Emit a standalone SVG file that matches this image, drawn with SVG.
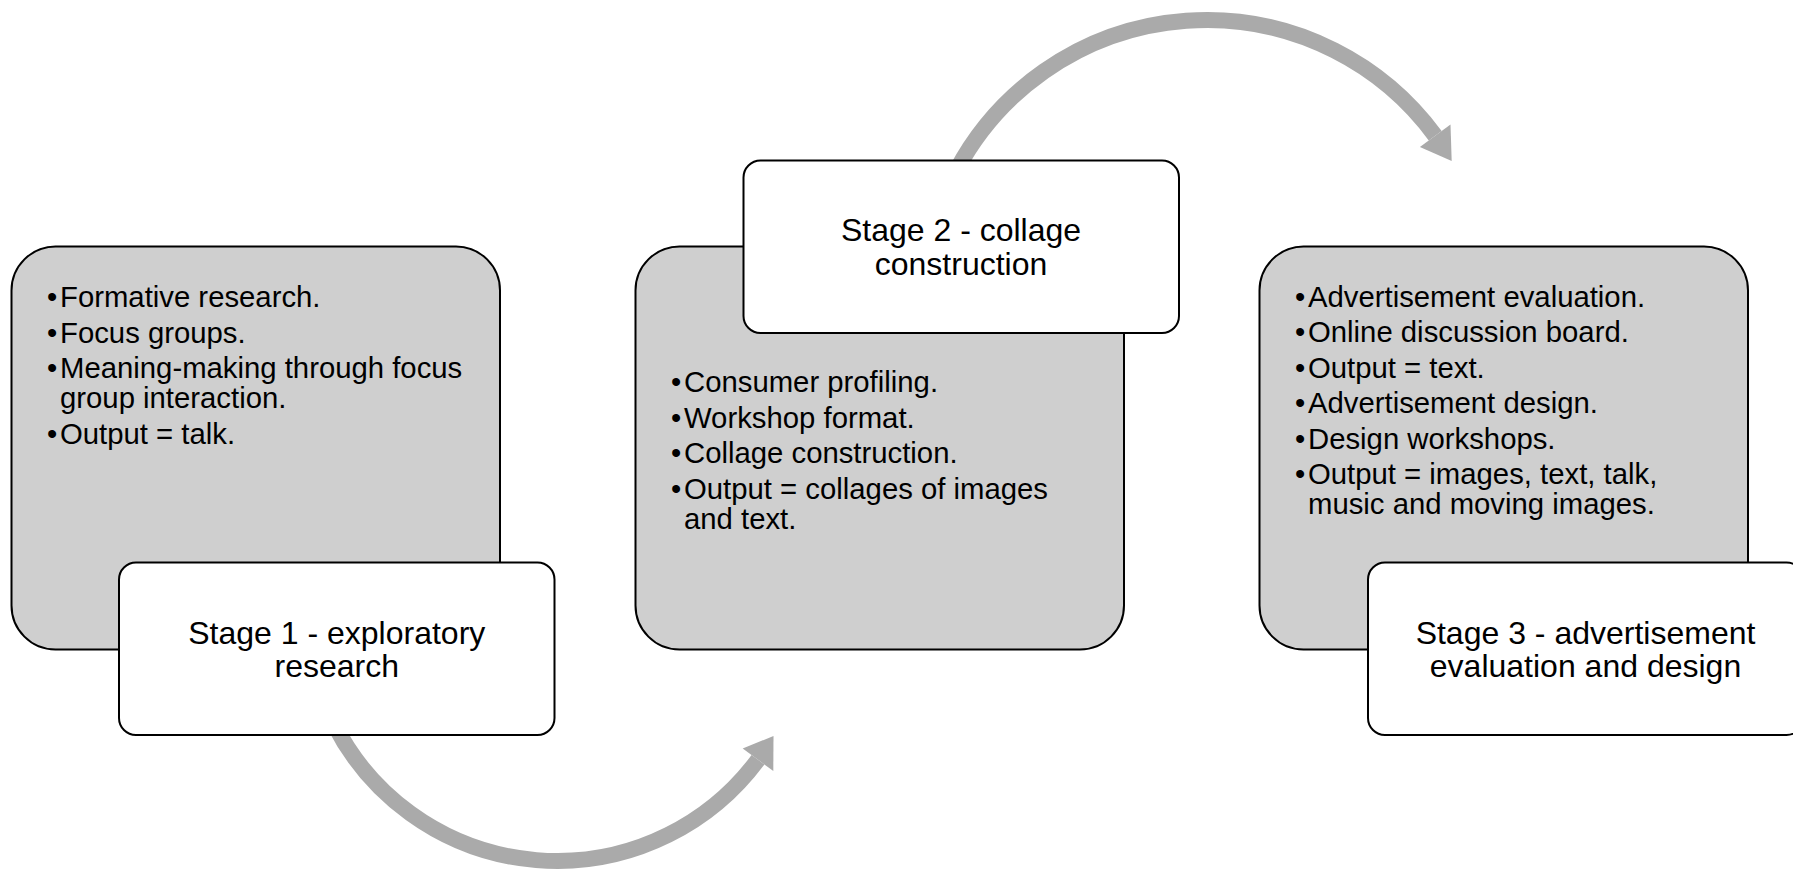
<svg xmlns="http://www.w3.org/2000/svg" width="1793" height="870" viewBox="0 0 1793 870">
<style>
.bg{fill:#ffffff}
.gray{fill:#cfcfcf;stroke:#000000;stroke-width:2}
.white{fill:#ffffff;stroke:#000000;stroke-width:2}
.shaft{fill:none;stroke:#aaaaaa;stroke-width:16}
.head{fill:#aaaaaa}
.b{font-family:"Liberation Sans",Arial,sans-serif;font-size:29.3px;fill:#000000}
.h{font-family:"Liberation Sans",Arial,sans-serif;font-size:32px;fill:#000000;text-anchor:middle}
</style>
<rect class="bg" x="0" y="0" width="1793" height="870"/>
<g id="connectors">
  <path class="shaft" d="M334.3,724.5 A250,250 0 0 0 758.0,759.7"/>
  <polygon class="head" points="773.5,736 742.7,748.4 773.3,771"/>
  <path class="shaft" d="M956.4,170.4 A283.5,283.5 0 0 1 1435.2,135.7"/>
  <polygon class="head" points="1451.7,160.9 1419.9,146.9 1450.5,124.4"/>
</g>
<g id="stage1-details">
  <rect class="gray" x="11.5" y="246.5" width="488.5" height="403" rx="44" ry="44"/>
  <text class="b" x="47" y="307">•</text><text class="b" x="60" y="307">Formative research.</text>
  <text class="b" x="47" y="342.5">•</text><text class="b" x="60" y="342.5">Focus groups.</text>
  <text class="b" x="47" y="378">•</text><text class="b" x="60" y="378">Meaning-making through focus</text>
  <text class="b" x="60" y="408">group interaction.</text>
  <text class="b" x="47" y="443.5">•</text><text class="b" x="60" y="443.5">Output = talk.</text>
</g>
<g id="stage1-title">
  <rect class="white" x="119" y="562.5" width="435.5" height="172.5" rx="17" ry="17"/>
  <text class="h" x="336.8" y="643.5">Stage 1 - exploratory</text>
  <text class="h" x="336.8" y="677">research</text>
</g>
<g id="stage2-details">
  <rect class="gray" x="635.5" y="246.5" width="488.5" height="403" rx="44" ry="44"/>
  <text class="b" x="671" y="392">•</text><text class="b" x="684" y="392">Consumer profiling.</text>
  <text class="b" x="671" y="427.5">•</text><text class="b" x="684" y="427.5">Workshop format.</text>
  <text class="b" x="671" y="463">•</text><text class="b" x="684" y="463">Collage construction.</text>
  <text class="b" x="671" y="498.5">•</text><text class="b" x="684" y="498.5">Output = collages of images</text>
  <text class="b" x="684" y="528.5">and text.</text>
</g>
<g id="stage2-title">
  <rect class="white" x="743.5" y="160.5" width="435.5" height="172.5" rx="17" ry="17"/>
  <text class="h" x="961" y="241">Stage 2 - collage</text>
  <text class="h" x="961" y="274.5">construction</text>
</g>
<g id="stage3-details">
  <rect class="gray" x="1259.5" y="246.5" width="488.5" height="403" rx="44" ry="44"/>
  <text class="b" x="1295" y="306.5">•</text><text class="b" x="1308" y="306.5">Advertisement evaluation.</text>
  <text class="b" x="1295" y="342">•</text><text class="b" x="1308" y="342">Online discussion board.</text>
  <text class="b" x="1295" y="377.5">•</text><text class="b" x="1308" y="377.5">Output = text.</text>
  <text class="b" x="1295" y="413">•</text><text class="b" x="1308" y="413">Advertisement design.</text>
  <text class="b" x="1295" y="448.5">•</text><text class="b" x="1308" y="448.5">Design workshops.</text>
  <text class="b" x="1295" y="484">•</text><text class="b" x="1308" y="484">Output = images, text, talk,</text>
  <text class="b" x="1308" y="514">music and moving images.</text>
</g>
<g id="stage3-title">
  <rect class="white" x="1368" y="562.5" width="435.5" height="172.5" rx="17" ry="17"/>
  <text class="h" x="1585.5" y="643.5">Stage 3 - advertisement</text>
  <text class="h" x="1585.5" y="677">evaluation and design</text>
</g>
</svg>
